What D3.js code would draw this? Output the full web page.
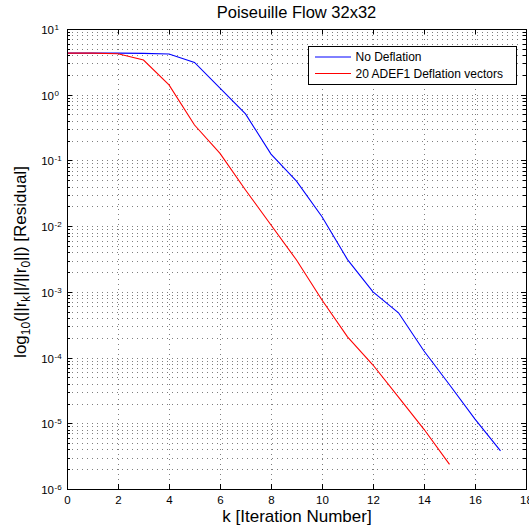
<!DOCTYPE html>
<html>
<head>
<meta charset="utf-8">
<script src="https://cdn.jsdelivr.net/npm/d3@7"></script>
<style>
  body { margin: 0; background: #fff; }
  svg { display: block; font-family: "Liberation Sans", Arial, sans-serif; }
  .grid line { stroke: #000; stroke-opacity: 0.5; stroke-dasharray: 1,4; shape-rendering: crispEdges; }
  .axis path, .axis line { stroke: #000; shape-rendering: crispEdges; }
</style>
</head>
<body>
<div id="chart"></div>
<script>
// residual history
let iterNoDefl = [0, 1, 2, 3, 4, 5, 6, 7, 8, 9, 10, 11, 12, 13, 14, 15, 16, 17];
let resNoDefl = [4.3, 4.3, 4.3, 4.25, 4.17, 3.1, 1.26, 0.51, 0.125, 0.0485, 0.0139, 0.0031,
    0.001, 4.8e-4, 1.26e-4, 3.86e-5, 1.16e-5, 3.8e-6];

let iterDefl = [0, 1, 2, 3, 4, 5, 6, 7, 8, 9, 10, 11, 12, 13, 14, 15];
let resDefl = [4.3, 4.3, 4.2, 3.37, 1.41, 0.346, 0.128, 0.0355, 0.0104, 0.00305, 7.5e-4,
    2.07e-4, 7.7e-5, 2.5e-5, 8.1e-6, 2.37e-6];

let xTicks = [0, 2, 4, 6, 8, 10, 12, 14, 16, 18];
let yExponents = [-6, -5, -4, -3, -2, -1, 0, 1];

let seriesNames = ["No Deflation", "20 ADEF1 Deflation vectors"];
let seriesColors = ["#0000ff", "#ff0000"];

let WIDTH = 529, HEIGHT = 526;
let plot = { left: 67, right: 526, top: 29, bottom: 489 };

let svg = d3.select("#chart").append("svg")
    .attr("width", WIDTH)
    .attr("height", HEIGHT);

let x = d3.scaleLinear().domain([0, 18]).range([plot.left, plot.right]);
let y = d3.scaleLog().domain([1e-6, 10]).range([plot.bottom, plot.top]);

let majorY = yExponents.map(e => Math.pow(10, e));
// minor log positions 2..9 in every decade
let minorY = [];
yExponents.slice(0, -1).forEach(e => {
    [2, 3, 4, 5, 6, 7, 8, 9].forEach(m => minorY.push(m * Math.pow(10, e)));
});

// dotted grid
let grid = svg.append("g").attr("class", "grid");
grid.selectAll("line.gy")
    .data(majorY.concat(minorY).filter(v => v > 1e-6 && v < 10))
    .join("line")
    .attr("class", "gy")
    .attr("x1", plot.left).attr("x2", plot.right)
    .attr("y1", d => Math.round(y(d)) + 0.5).attr("y2", d => Math.round(y(d)) + 0.5);
grid.selectAll("line.gx")
    .data(xTicks.filter(v => v > 0 && v < 18))
    .join("line")
    .attr("class", "gx")
    .attr("y1", plot.top).attr("y2", plot.bottom)
    .attr("x1", d => Math.round(x(d)) + 0.5).attr("x2", d => Math.round(x(d)) + 0.5);

// series lines
let line = d3.line()
    .x(d => x(d[0]))
    .y(d => y(d[1]));

let series = [
    d3.zip(iterNoDefl, resNoDefl),
    d3.zip(iterDefl, resDefl)
];

svg.append("g").selectAll("path")
    .data(series)
    .join("path")
    .attr("fill", "none")
    .attr("stroke", (d, i) => seriesColors[i])
    .attr("stroke-width", 1.1)
    .attr("d", line);

// axes, ticks pointing inward like matlab
let xBottom = svg.append("g").attr("class", "axis")
    .attr("transform", `translate(0,${plot.bottom})`)
    .call(d3.axisBottom(x).tickValues(xTicks).tickSize(-5).tickSizeOuter(0).tickPadding(7));
xBottom.selectAll("text")
    .attr("font-size", 11.5)
    .attr("fill", "#000")
    .attr("font-family", "Liberation Sans, Arial, sans-serif");

svg.append("g").attr("class", "axis")
    .attr("transform", `translate(0,${plot.top})`)
    .call(d3.axisTop(x).tickValues(xTicks).tickSize(-5).tickSizeOuter(0).tickFormat(""));

svg.append("g").attr("class", "axis")
    .attr("transform", `translate(${plot.left},0)`)
    .call(d3.axisLeft(y).tickValues(majorY).tickSize(-5).tickSizeOuter(0).tickFormat(""));
svg.append("g").attr("class", "axis")
    .attr("transform", `translate(${plot.left},0)`)
    .call(d3.axisLeft(y).tickValues(minorY).tickSize(-3).tickSizeOuter(0).tickFormat(""))
    .select(".domain").remove();

svg.append("g").attr("class", "axis")
    .attr("transform", `translate(${plot.right},0)`)
    .call(d3.axisRight(y).tickValues(majorY).tickSize(-5).tickSizeOuter(0).tickFormat(""));
svg.append("g").attr("class", "axis")
    .attr("transform", `translate(${plot.right},0)`)
    .call(d3.axisRight(y).tickValues(minorY).tickSize(-3).tickSizeOuter(0).tickFormat(""))
    .select(".domain").remove();

// power of ten labels
let yLabels = svg.append("g").attr("font-size", 11.5).attr("fill", "#000");
yExponents.forEach(e => {
    yLabels.append("text")
        .attr("x", 54)
        .attr("y", y(Math.pow(10, e)) + 5)
        .attr("text-anchor", "end")
        .text("10");
    yLabels.append("text")
        .attr("x", 54.5)
        .attr("y", y(Math.pow(10, e)) + 1)
        .attr("font-size", 8)
        .text(e);
});

// title and axis labels
svg.append("text")
    .attr("x", (plot.left + plot.right) / 2)
    .attr("y", 18)
    .attr("text-anchor", "middle")
    .attr("font-size", 16.5)
    .text("Poiseuille Flow 32x32");

svg.append("text")
    .attr("x", 297)
    .attr("y", 521.5)
    .attr("text-anchor", "middle")
    .attr("font-size", 17)
    .text("k [Iteration Number]");

let ylab = svg.append("text")
    .attr("transform", "translate(26,262) rotate(-90)")
    .attr("text-anchor", "middle")
    .attr("font-size", 17);
ylab.append("tspan").text("log");
ylab.append("tspan").attr("font-size", 12).attr("dy", 4).text("10");
ylab.append("tspan").attr("dy", -4).text("(||r");
ylab.append("tspan").attr("font-size", 12).attr("dy", 4).text("k");
ylab.append("tspan").attr("dy", -4).text("||/||r");
ylab.append("tspan").attr("font-size", 12).attr("dy", 4).text("0");
ylab.append("tspan").attr("dy", -4).text("||) [Residual]");

// legend
let legend = svg.append("g");
legend.append("rect")
    .attr("x", 308.5).attr("y", 46.5)
    .attr("width", 208).attr("height", 38)
    .attr("fill", "#fff")
    .attr("stroke", "#000")
    .attr("shape-rendering", "crispEdges");

let items = legend.selectAll("g.item")
    .data(seriesNames)
    .join("g")
    .attr("class", "item")
    .attr("transform", (d, i) => `translate(0,${57 + i * 16.5})`);
items.append("line")
    .attr("x1", 315).attr("x2", 351)
    .attr("stroke", (d, i) => seriesColors[i])
    .attr("stroke-width", 1);
items.append("text")
    .attr("x", 355.5)
    .attr("y", 4.3)
    .attr("font-size", 12)
    .text(d => d);
</script>
</body>
</html>
